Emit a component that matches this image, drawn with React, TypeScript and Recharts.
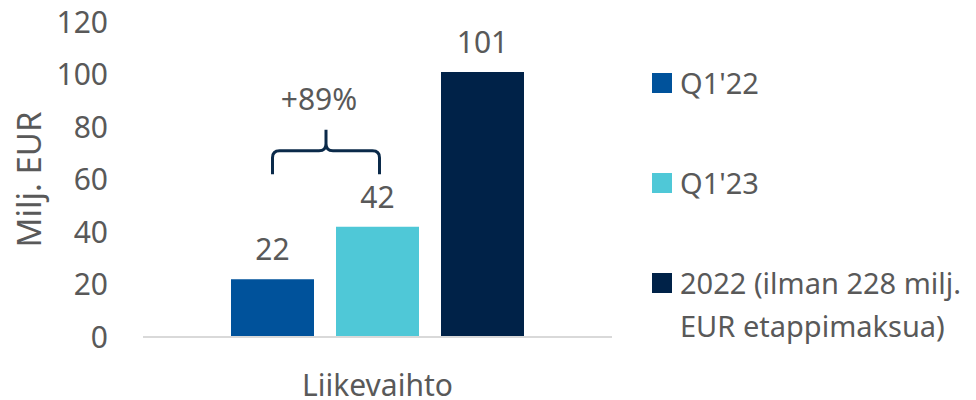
import { BarChart, Bar, XAxis, YAxis, LabelList } from "recharts";

const categories = ["Liikevaihto"];
const seriesNames = ["Q1'22", "Q1'23", "2022 (ilman 228 milj. EUR etappimaksua)"];
const q122Values = [22];
const q123Values = [42];
const y2022Values = [101];
const yTicks = [0, 20, 40, 60, 80, 100, 120];
const growthText = "+89%";
// bracket levels in axis units: leg ends, bar, peak, text baseline
const bracketLevels = [62, 71, 79, 86.5];

const colors = ["#00529B", "#4FC8D7", "#002248"];
const textColor = "#595959";
const font = "'Noto Sans', 'Open Sans', sans-serif";

const data = categories.map((name, i) => ({
  name,
  q122: q122Values[i],
  q123: q123Values[i],
  y2022: y2022Values[i],
}));

const BAR_SIZE = 83;
const BAR_GAP = 22;

function Bracket(props: any) {
  const vb = props.viewBox ?? props;
  const { x, y, width, height } = vb;
  const v = props.value;
  if (!v || !height) return null;
  const scale = height / v;
  const base = y + height;
  const [ends, top, peak, txt] = bracketLevels.map((l) => base - l * scale);
  const x1 = x + width / 2;
  const x2 = x1 + width + BAR_GAP + 2;
  const xc = (x1 + x2) / 2;
  const r = 7;
  const d = `M ${x1} ${ends} L ${x1} ${top + r} Q ${x1} ${top} ${x1 + r} ${top} L ${xc - r} ${top} Q ${xc} ${top} ${xc} ${top - r} L ${xc} ${peak}
    M ${xc} ${top - r} Q ${xc} ${top} ${xc + r} ${top} L ${x2 - r} ${top} Q ${x2} ${top} ${x2} ${top + r} L ${x2} ${ends}`;
  return (
    <g>
      <path d={d} fill="none" stroke="#0B2A4A" strokeWidth={3} />
      <text x={xc - 7} y={txt} textAnchor="middle" fill={textColor} fontSize={30} fontFamily={font}>
        {growthText}
      </text>
    </g>
  );
}

function XTick({ x, y, payload }: any) {
  return (
    <text x={x} y={y + 57} textAnchor="middle" fill={textColor} fontSize={30} fontFamily={font}>
      {payload.value}
    </text>
  );
}

function YLabel({ viewBox }: any) {
  const cx = 28;
  const cy = viewBox.y + viewBox.height / 2;
  return (
    <text
      x={cx}
      y={cy}
      transform={`rotate(-90, ${cx}, ${cy})`}
      textAnchor="middle"
      dominantBaseline="central"
      fill={textColor}
      fontSize={33}
      fontFamily={font}
    >
      Milj. EUR
    </text>
  );
}

export default function App() {
  const keys = ["q122", "q123", "y2022"];
  return (
    <div style={{ position: "absolute", left: 0, top: 0, width: 976, height: 400, background: "#fff" }}>
      <BarChart
        width={976}
        height={400}
        data={data}
        margin={{ top: 22, right: 364, bottom: 0, left: 0 }}
        barSize={BAR_SIZE}
        barGap={BAR_GAP}
      >
        <YAxis
          width={143}
          domain={[0, 120]}
          ticks={yTicks}
          axisLine={false}
          tickLine={false}
          tickSize={0}
          tickMargin={35}
          interval={0}
          tick={{ fill: textColor, fontSize: 30, fontFamily: font }}
          label={{ content: YLabel }}
        />
        <XAxis
          dataKey="name"
          height={63}
          axisLine={{ stroke: "#D9D9D9", strokeWidth: 2 }}
          tickLine={false}
          tickSize={0}
          tick={XTick}
        />
        {keys.map((k, i) => (
          <Bar key={k} dataKey={k} name={seriesNames[i]} fill={colors[i]} isAnimationActive={false}>
            <LabelList
              dataKey={k}
              position="top"
              offset={19}
              fill={textColor}
              fontSize={30}
              fontFamily={font}
            />
            {i === 0 && <LabelList dataKey={k} content={Bracket} />}
          </Bar>
        ))}
      </BarChart>
      <div
        style={{
          position: "absolute",
          left: 652,
          top: 61,
          width: 324,
          fontFamily: font,
          fontSize: 29,
          lineHeight: "43px",
          color: textColor,
        }}
      >
        {seriesNames.map((n, i) => (
          <div key={n} style={{ display: "flex", alignItems: "flex-start", marginBottom: 57 }}>
            <div style={{ width: 20, height: 20, marginTop: 12, marginRight: 8, flexShrink: 0, background: colors[i] }} />
            <div style={{ width: 296 }}>{n}</div>
          </div>
        ))}
      </div>
    </div>
  );
}
